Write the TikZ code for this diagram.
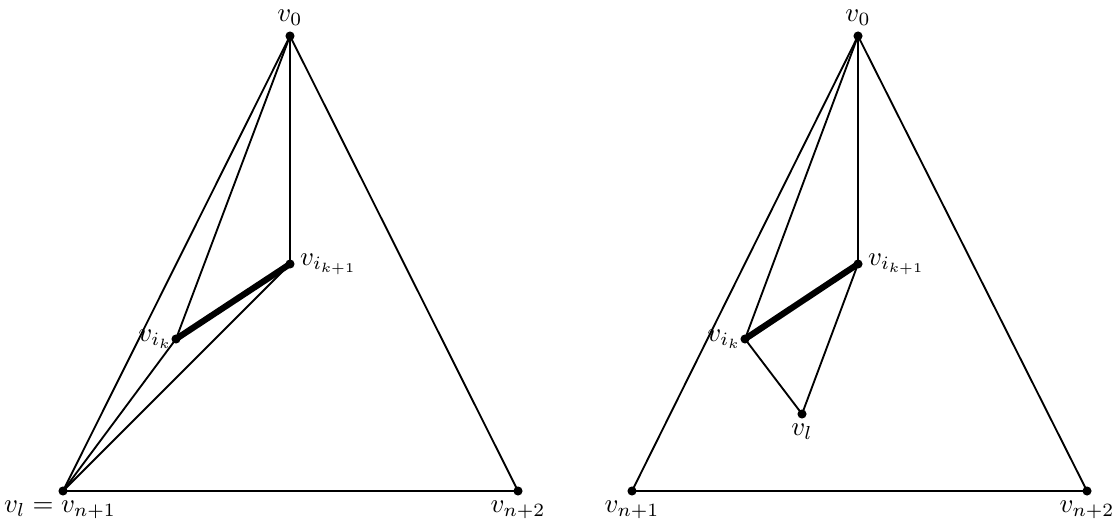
\documentclass[tikz,border=0pt]{standalone}
\begin{document}
\begin{tikzpicture}[x=0.017cm, y=-0.017cm, line width=0.9pt, every node/.style={scale=1.3}]
      \useasboundingbox (0,0) rectangle (1114,525);
      % left picture
      \coordinate (A0) at (290,36);
      \coordinate (A1) at (63,491);
      \coordinate (A2) at (518,491);
      \coordinate (Ak) at (176,339);
      \coordinate (Akk) at (290,264);
      \draw (A0) -- (A1) -- (A2) -- cycle;
      \draw (A0) -- (Akk);
      \draw (A0) -- (Ak);
      \draw (A1) -- (Ak);
      \draw (A1) -- (Akk);
      \draw[line width=3pt] (Ak) -- (Akk);
      \foreach \p in {A0,A1,A2,Ak,Akk} \fill (\p) circle (2.2pt);
      \node[above] at (A0) {$v_0$};
      \node[below] at (60,491) {$v_l = v_{n+1}$};
      \node[below] at (A2) {$v_{n+2}$};
      \node[right] at (Akk) {$v_{i_{k+1}}$};
      \node[left, inner sep=1pt] at (Ak) {$v_{i_k}$};
      % right picture
      \coordinate (B0) at (858,36);
      \coordinate (B1) at (632,491);
      \coordinate (B2) at (1087,491);
      \coordinate (Bk) at (745,339);
      \coordinate (Bkk) at (858,264);
      \coordinate (Bl) at (802,414);
      \draw (B0) -- (B1) -- (B2) -- cycle;
      \draw (B0) -- (Bkk);
      \draw (B0) -- (Bk);
      \draw (Bk) -- (Bl) -- (Bkk);
      \draw[line width=3pt] (Bk) -- (Bkk);
      \foreach \p in {B0,B1,B2,Bk,Bkk,Bl} \fill (\p) circle (2.2pt);
      \node[above] at (B0) {$v_0$};
      \node[below] at (B1) {$v_{n+1}$};
      \node[below] at (B2) {$v_{n+2}$};
      \node[right] at (Bkk) {$v_{i_{k+1}}$};
      \node[left, inner sep=1pt] at (Bk) {$v_{i_k}$};
      \node[below] at (Bl) {$v_l$};
    \end{tikzpicture}
\end{document}
